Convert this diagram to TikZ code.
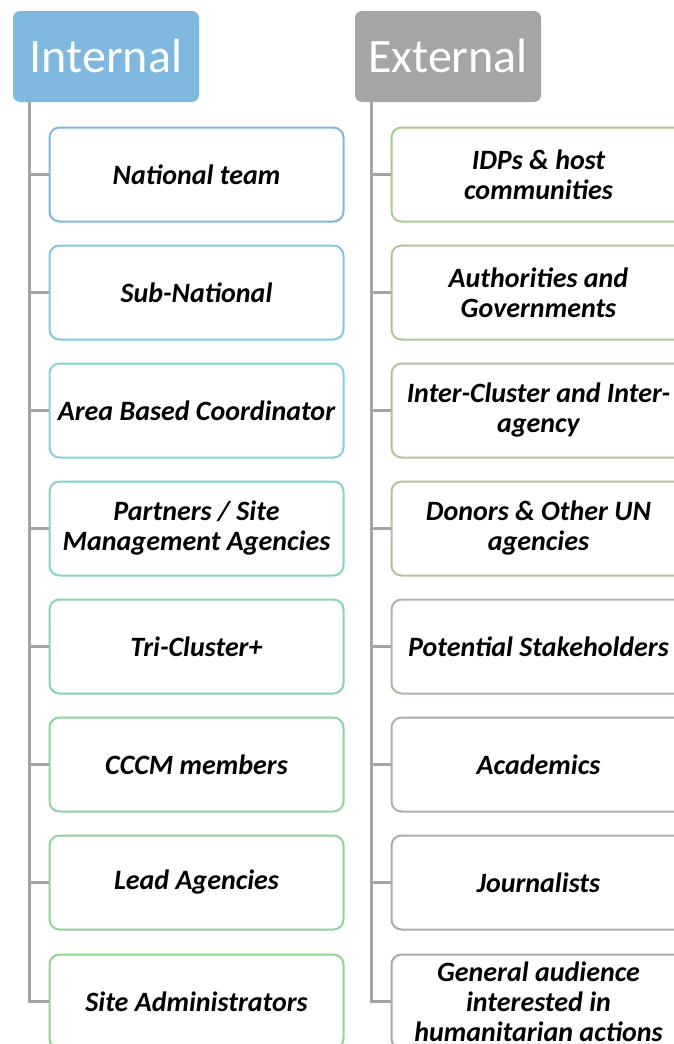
\documentclass[tikz,border=0pt]{standalone}
\usepackage{fontspec}
\setmainfont{Carlito}
\definecolor{hdrblue}{HTML}{7FB8DE}
\definecolor{hdrgray}{HTML}{A5A5A5}
\definecolor{spinegray}{HTML}{A5A5A5}
\definecolor{cA}{HTML}{7DB7DF}
\definecolor{cB}{HTML}{7EC8E0}
\definecolor{cC}{HTML}{80D3D8}
\definecolor{cD}{HTML}{80D5C5}
\definecolor{cE}{HTML}{82D6B0}
\definecolor{cF}{HTML}{88D6A0}
\definecolor{cG}{HTML}{8CD49A}
\definecolor{cH}{HTML}{92D18E}
\definecolor{dA}{HTML}{A9CB8E}
\definecolor{dB}{HTML}{AEC696}
\definecolor{dC}{HTML}{B2C39A}
\definecolor{dD}{HTML}{B7BDA0}
\definecolor{dE}{HTML}{B5B2A3}
\definecolor{dF}{HTML}{B0ACA8}
\definecolor{dG}{HTML}{ABABAB}
\definecolor{dH}{HTML}{A8A8A8}
\begin{document}
\begin{tikzpicture}[x=1pt,y=-1pt,
  hdr/.style={fill=#1, rounded corners=7pt, minimum width=186pt, minimum height=91pt, inner sep=0pt, text=white, font=\fontsize{48}{52}\selectfont},
  item/.style={draw=#1, line width=2pt, rounded corners=10pt, fill=white, minimum width=294pt, minimum height=94pt, inner sep=0pt, align=center, font=\fontsize{28}{30}\selectfont\bfseries\itshape},
  spine/.style={draw=spinegray, line width=3pt}]
\useasboundingbox (0,0) rectangle (674,1044);
\clip (0,0) rectangle (674,1044);
% headers
\node[hdr=hdrblue] (hI) at (106,56.5) {Internal};
\node[hdr=hdrgray] (hE) at (448,56.5) {External};
\coordinate (iTop) at ([xshift=17pt]hI.south west);
\coordinate (eTop) at ([xshift=17pt]hE.south west);
% internal items
\node[item=cA] (i1) at (196.5,174.5) {National team};
\node[item=cB] (i2) at (196.5,292.5) {Sub-National};
\node[item=cC] (i3) at (196.5,410.5) {Area Based Coordinator};
\node[item=cD] (i4) at (196.5,528.5) {Partners / Site\\Management Agencies};
\node[item=cE] (i5) at (196.5,646.5) {Tri-Cluster+};
\node[item=cF] (i6) at (196.5,764.5) {CCCM members};
\node[item=cG] (i7) at (196.5,882.5) {Lead Agencies};
\node[item=cH] (i8) at (196.5,1001.5) {Site Administrators};
% external items
\node[item=dA] (e1) at (538.5,174.5) {IDPs \& host\\communities};
\node[item=dB] (e2) at (538.5,292.5) {Authorities and\\Governments};
\node[item=dC] (e3) at (538.5,410.5) {Inter-Cluster and Inter-\\agency};
\node[item=dD] (e4) at (538.5,528.5) {Donors \& Other UN\\agencies};
\node[item=dE] (e5) at (538.5,646.5) {Potential Stakeholders};
\node[item=dF] (e6) at (538.5,764.5) {Academics};
\node[item=dG] (e7) at (538.5,882.5) {Journalists};
\node[item=dH] (e8) at (538.5,1001.5) {General audience\\interested in\\humanitarian actions};
% spines
\draw[spine] (iTop) |- (i8.west);
\draw[spine] (eTop) |- (e8.west);
\foreach \n in {1,...,7}{
  \draw[spine] (iTop |- i\n.west) -- (i\n.west);
  \draw[spine] (eTop |- e\n.west) -- (e\n.west);
}
\end{tikzpicture}
\end{document}
